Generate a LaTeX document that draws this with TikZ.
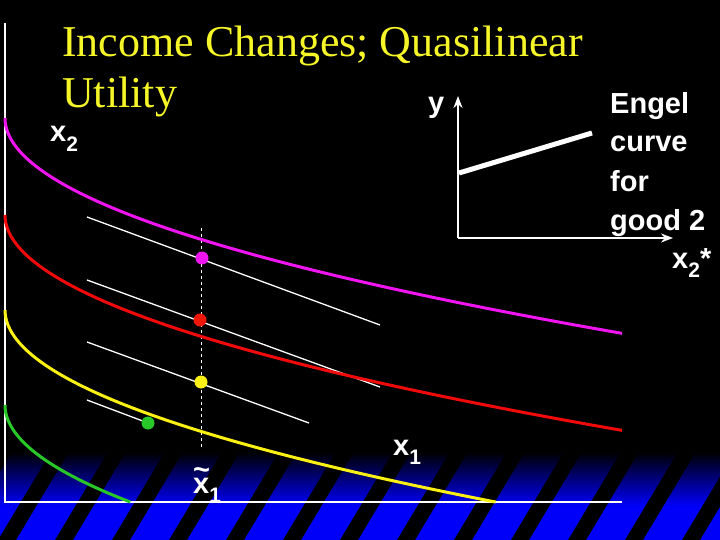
\documentclass[tikz,border=0pt]{standalone}
\usepackage{fontspec}
\setmainfont{Liberation Serif}
\setsansfont{Liberation Sans}
\usepackage{xcolor}
\usepackage{tikz}
\usetikzlibrary{arrows.meta}

\definecolor{slideblue}{RGB}{0,0,250}
\definecolor{titleyellow}{RGB}{245,245,40}
\definecolor{icmagenta}{RGB}{240,20,240}
\definecolor{icred}{RGB}{240,10,10}
\definecolor{icyellow}{RGB}{250,240,20}
\definecolor{icgreen}{RGB}{40,200,40}

\newcommand{\subs}[1]{\raisebox{-0.32em}{\fontsize{21}{21}\selectfont #1}}

\begin{document}
\begin{tikzpicture}[
  x=1pt, y=-1pt,
  >=Stealth,
  lbl/.style={font=\sffamily\bfseries\fontsize{29}{39}\selectfont,
    text=white, inner sep=0pt, anchor=base west},
  ttl/.style={font=\fontsize{44}{51}\selectfont, text=titleyellow,
    inner sep=0pt, anchor=base west, align=left},
  icurve/.style={line width=3pt, #1},
  budget/.style={white, line width=1.3pt},
  axis/.style={white, line width=2pt},
  dot/.style={circle, fill=#1, inner sep=0pt, minimum size=13pt}
]

% ── Background and striped band ─────────────────────────────────────────────
\fill[black] (0,0) rectangle (720,540);
\useasboundingbox (0,0) rectangle (720,540);
\shade[top color=black, bottom color=slideblue] (0,452) rectangle (720,506);
\fill[slideblue] (0,506) rectangle (720,540);
\begin{scope}
  \clip (0,450) rectangle (720,540);
  \foreach \s in {-2,...,13}
    \fill[black] ({57*\s-2},540) -- ({57*\s+16},540)
      -- ({57*\s+70},450) -- ({57*\s+52},450) -- cycle;
\end{scope}

% ── Title ───────────────────────────────────────────────────────────────────
\node[ttl] (title) at (62,108) {Income Changes; Quasilinear\\Utility};

% ── Axes ────────────────────────────────────────────────────────────────────
\coordinate (orig) at (5,502);
\coordinate (ytop) at (5,23);
\coordinate (xend) at (622,502);
\draw[axis] (ytop) -- (orig) -- (xend);

% ── Budget lines and tilde-x1 ───────────────────────────────────────────────
\draw[budget] (87,217) -- (380,325);
\draw[budget] (87,280) -- (380,387);
\draw[budget] (87,342) -- (309,423);
\draw[budget] (87,400) -- (148,423);
\draw[white, line width=1pt, dashed] (201,228) -- (201,447);

% ── Indifference curves (vertical shifts) ───────────────────────────────────
\draw[icurve=icmagenta] plot[domain=0:24.84, samples=60, smooth]
  ({5+\x*\x}, {118+8.67*\x});
\draw[icurve=icred] plot[domain=0:24.84, samples=60, smooth]
  ({5+\x*\x}, {215+8.67*\x});
\draw[icurve=icyellow] plot[domain=0:22.15, samples=60, smooth]
  ({5+\x*\x}, {310+8.67*\x});
\draw[icurve=icgreen] plot[domain=0:11.19, samples=40, smooth]
  ({5+\x*\x}, {405+8.67*\x});

% ── Optimal bundles ─────────────────────────────────────────────────────────
\node[dot=icmagenta] (pm) at (202,258) {};
\node[dot=icred!90!orange] (pr) at (200,320) {};
\node[dot=icyellow] (py) at (201,382) {};
\node[dot=icgreen] (pg) at (148,423) {};

% ── Axis labels ─────────────────────────────────────────────────────────────
\node[lbl] (lx2) at (50,142) {x\subs{2}};
\node[lbl] (lx1) at (393,455) {x\subs{1}};
\node[lbl] (ltx) at (193,493)
  {\rlap{\raisebox{0.45em}{\textasciitilde}}x\subs{1}};

% ── Engel curve inset ───────────────────────────────────────────────────────
\coordinate (eo) at (458,238);
\coordinate (ey) at (458,96);
\coordinate (ex) at (673,238);
\draw[axis, ->] (eo) -- (ey);
\draw[axis, ->] (eo) -- (ex);
\coordinate (ea) at (459,173);
\coordinate (eb) at (592,133);
\draw[white, line width=5pt] (ea) -- (eb);
\node[lbl] (ly) at (428,113) {y};
\node[lbl, align=left] (engel) at (610,230) {Engel\\curve\\for\\good 2};
\node[lbl] (lx2s) at (672,268) {x\subs{2}*};

\end{tikzpicture}
\end{document}
